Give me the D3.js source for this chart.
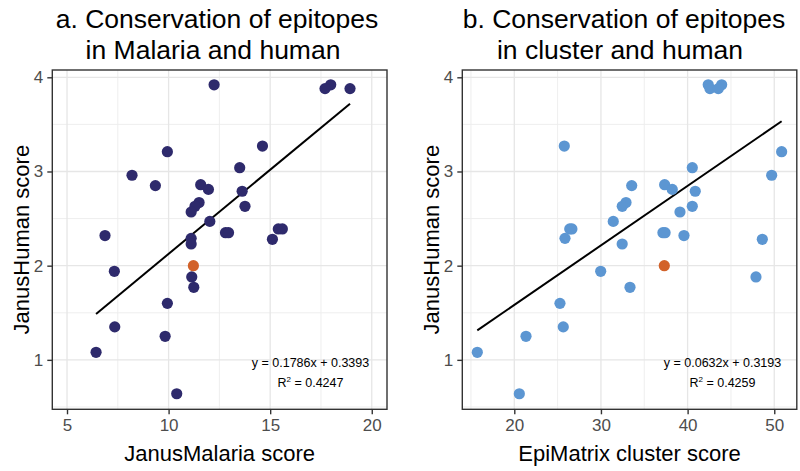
<!DOCTYPE html>
<html>
<head>
<meta charset="utf-8">
<script src="https://cdn.jsdelivr.net/npm/d3@7"></script>
<style>
  body { margin: 0; background: #fff; }
  svg { font-family: "Liberation Sans", Arial, sans-serif; }
</style>
</head>
<body>
<svg id="chart" width="800" height="471"></svg>
<script>
// JanusHuman score of each epitope (shared by both panels)
let humanScore   = [3.92, 3.92, 3.88, 3.88, 3.27, 3.21, 3.04, 2.96, 2.86, 2.85, 2.81,
                    2.79, 2.67, 2.63, 2.63, 2.57, 2.47, 2.39, 2.39, 2.35, 2.35, 2.32,
                    2.29, 2.28, 2.23, 1.94, 1.88, 1.77, 1.60, 1.35, 1.25, 1.08, 0.64];
let malariaScore = [12.24, 17.98, 17.70, 18.93, 14.62, 9.94, 13.50, 8.20, 11.58, 9.35, 11.96,
                    13.62, 11.50, 11.30, 13.76, 11.11, 12.03, 15.40, 15.60, 12.80, 12.95, 6.87,
                    11.11, 15.11, 11.11, 7.33, 11.14, 11.24, 9.94, 7.35, 9.83, 6.43, 10.40];
let clusterScore = [42.38, 43.93, 42.58, 43.54, 25.77, 50.85, 40.54, 49.70, 37.35, 33.55, 38.23,
                    40.88, 32.89, 40.54, 32.46, 39.12, 31.42, 26.40, 26.65, 37.15, 37.40, 39.58,
                    25.85, 48.62, 32.45, 29.97, 47.89, 33.35, 25.27, 25.65, 21.35, 15.73, 20.58];

// highlighted epitope (orange)
let highlight = {human: 2.0, malaria: 11.22, cluster: 37.31};

// fitted lines as printed on the chart
let fitA = {slope: 0.1786, intercept: 0.3393, r2: "0.4247"};
let fitB = {slope: 0.0632, intercept: 0.3193, r2: "0.4259"};

let xTicksA = [5, 10, 15, 20];
let xTicksB = [20, 30, 40, 50];
let yTicks = [1, 2, 3, 4];

let svg = d3.select("#chart");

function drawPanel(cfg) {
    let g = svg.append("g");
    let x = d3.scaleLinear().domain(cfg.xDomain).range([cfg.left, cfg.right]);
    let y = d3.scaleLinear().domain([0.475, 4.0775]).range([409.3, 70]);

    // grid
    let minorX = cfg.xMinor.filter(v => v > cfg.xDomain[0] && v < cfg.xDomain[1]);
    let minorY = [0.5, 1.5, 2.5, 3.5].filter(v => v > 0.475 && v < 4.0775);
    g.selectAll(".mx").data(minorX).enter().append("line")
        .attr("x1", d => x(d)).attr("x2", d => x(d))
        .attr("y1", 70).attr("y2", 409.3)
        .attr("stroke", "#ececec").attr("stroke-width", 0.9);
    g.selectAll(".my").data(minorY).enter().append("line")
        .attr("y1", d => y(d)).attr("y2", d => y(d))
        .attr("x1", cfg.left).attr("x2", cfg.right)
        .attr("stroke", "#ececec").attr("stroke-width", 0.9);
    g.selectAll(".gx").data(cfg.xTicks).enter().append("line")
        .attr("x1", d => x(d)).attr("x2", d => x(d))
        .attr("y1", 70).attr("y2", 409.3)
        .attr("stroke", "#e6e6e6").attr("stroke-width", 1.3);
    g.selectAll(".gy").data(yTicks).enter().append("line")
        .attr("y1", d => y(d)).attr("y2", d => y(d))
        .attr("x1", cfg.left).attr("x2", cfg.right)
        .attr("stroke", "#e6e6e6").attr("stroke-width", 1.3);

    // regression line over the data range
    let xs = cfg.xs.concat([cfg.hx]);
    let ext = d3.extent(xs);
    g.append("line")
        .attr("x1", x(ext[0])).attr("y1", y(cfg.fit.slope * ext[0] + cfg.fit.intercept))
        .attr("x2", x(ext[1])).attr("y2", y(cfg.fit.slope * ext[1] + cfg.fit.intercept))
        .attr("stroke", "#000").attr("stroke-width", 2);

    // points
    g.selectAll(".pt").data(cfg.xs).enter().append("circle")
        .attr("cx", d => x(d))
        .attr("cy", (d, i) => y(humanScore[i]))
        .attr("r", 5.6)
        .attr("fill", cfg.color);
    g.append("circle")
        .attr("cx", x(cfg.hx)).attr("cy", y(highlight.human))
        .attr("r", 5.6).attr("fill", "#d2622a");

    // equation
    let eqX = cfg.eqX;
    g.append("text").attr("x", eqX).attr("y", 366.5)
        .attr("text-anchor", "middle").attr("font-size", 12.5)
        .text("y = " + cfg.fit.slope.toFixed(4) + "x + " + cfg.fit.intercept.toFixed(4));
    let r2 = g.append("text").attr("x", eqX).attr("y", 386.5)
        .attr("text-anchor", "middle").attr("font-size", 12.5);
    r2.append("tspan").text("R");
    r2.append("tspan").attr("dy", -5).attr("font-size", 8).text("2");
    r2.append("tspan").attr("dy", 5).text(" = " + cfg.fit.r2);

    // border
    g.append("rect")
        .attr("x", cfg.left).attr("y", 70)
        .attr("width", cfg.right - cfg.left).attr("height", 409.3 - 70)
        .attr("fill", "none").attr("stroke", "#333").attr("stroke-width", 1.4);

    // axes
    let xAxis = g.append("g")
        .attr("transform", "translate(0,409.3)")
        .call(d3.axisBottom(x).tickValues(cfg.xTicks).tickFormat(d3.format("d"))
            .tickSize(5).tickPadding(5));
    let yAxis = g.append("g")
        .attr("transform", "translate(" + cfg.left + ",0)")
        .call(d3.axisLeft(y).tickValues(yTicks).tickFormat(d3.format("d"))
            .tickSize(5).tickPadding(4));
    [xAxis, yAxis].forEach(function (a) {
        a.select(".domain").remove();
        a.selectAll(".tick line").attr("stroke", "#333").attr("stroke-width", 1.4);
        a.selectAll(".tick text").attr("fill", "#4d4d4d")
            .attr("font-size", 17).attr("font-family", "Liberation Sans, Arial, sans-serif");
    });

    // axis titles
    let cx = (cfg.left + cfg.right) / 2;
    g.append("text").attr("x", cx).attr("y", 461)
        .attr("text-anchor", "middle").attr("font-size", 22)
        .text(cfg.xLabel);
    g.append("text")
        .attr("transform", "translate(" + (cfg.left - 23) + "," + ((70 + 409.3) / 2) + ") rotate(-90)")
        .attr("text-anchor", "middle").attr("font-size", 22)
        .text("JanusHuman score");

    // title
    g.append("text").attr("x", cfg.titleX).attr("y", 28)
        .attr("text-anchor", "middle").attr("font-size", 26.5)
        .text(cfg.title[0]);
    g.append("text").attr("x", cfg.titleX - 4).attr("y", 59)
        .attr("text-anchor", "middle").attr("font-size", 26.5)
        .text(cfg.title[1]);
}

drawPanel({
    left: 52.3, right: 387, xDomain: [4.276, 20.75],
    xTicks: xTicksA, xMinor: [2.5, 7.5, 12.5, 17.5, 22.5],
    xs: malariaScore, hx: highlight.malaria, color: "#2e2a6c",
    fit: fitA, eqX: 310.5, xLabel: "JanusMalaria score",
    title: ["a. Conservation of epitopes", "in Malaria and human"], titleX: 217
});
drawPanel({
    left: 462.3, right: 796.8, xDomain: [14.0, 52.6],
    xTicks: xTicksB, xMinor: [15, 25, 35, 45, 55],
    xs: clusterScore, hx: highlight.cluster, color: "#5c96d2",
    fit: fitB, eqX: 722.5, xLabel: "EpiMatrix cluster score",
    title: ["b. Conservation of epitopes", "in cluster and human"], titleX: 624
});
</script>
</body>
</html>
